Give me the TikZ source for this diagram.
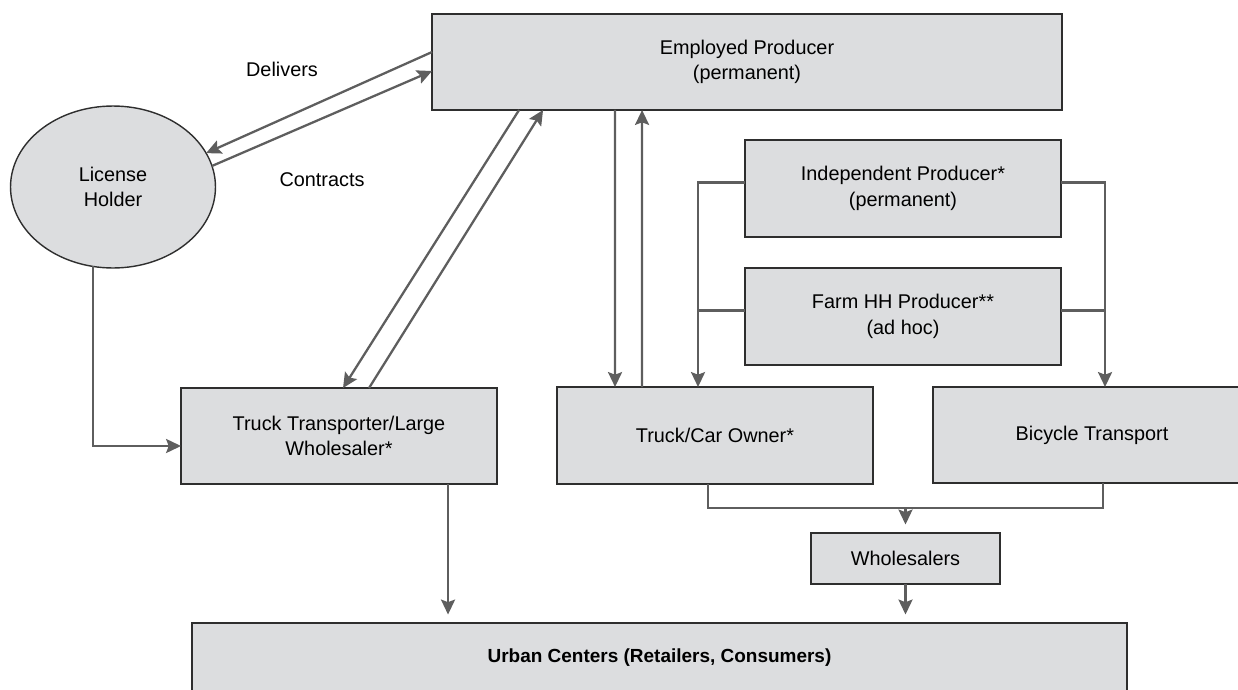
\documentclass[tikz,border=0pt]{standalone}
\usepackage{fontspec}
\setmainfont{Liberation Sans}
\usetikzlibrary{shapes.geometric,arrows.meta,positioning,calc}

\definecolor{boxgray}{HTML}{DCDDDF}
\definecolor{linegray}{HTML}{5E5E5E}
\definecolor{edgegray}{HTML}{2E2E2E}

\tikzset{
    actor/.style={draw=edgegray, line width=0.8pt, fill=boxgray, align=center, inner sep=0pt, outer sep=0pt,
        font=\fontsize{11.3}{14.5}\selectfont},
    flow/.style={draw=linegray, line width=1.3pt},
    arr/.style={flow, -{Stealth[length=8.5pt, width=8pt, inset=1.5pt]}},
    gap/.style={shorten >=0.17cm},
    lbl/.style={font=\fontsize{11.3}{14.5}\selectfont}
}

\begin{document}
\begin{tikzpicture}[x=0.02cm, y=-0.02cm]
        \useasboundingbox (0,0) rectangle (1238,690);

        % producers
        \node[actor, minimum width=12.6cm, minimum height=1.92cm] (emp) at (747,62) {Employed Producer\\(permanent)};
        \node[actor, minimum width=6.32cm, minimum height=1.94cm] (ind) at (903,188.5) {Independent Producer*\\(permanent)};
        \node[actor, minimum width=6.32cm, minimum height=1.94cm] (farm) at (903,316.5) {Farm HH Producer**\\(ad hoc)};
        \node[actor, ellipse, minimum width=4.1cm, minimum height=3.24cm] (lic) at (113,187) {License\\Holder};

        % transport
        \node[actor, minimum width=6.32cm, minimum height=1.92cm] (trk) at (339,436) {Truck Transporter/Large\\Wholesaler*};
        \node[actor, minimum width=6.32cm, minimum height=1.94cm] (car) at (715,435.5) {Truck/Car Owner*};
        \node[actor, minimum width=6.36cm, minimum height=1.92cm] (bike) at (1092,435) {Bicycle Transport};
        \node[actor, minimum width=3.78cm, minimum height=1.02cm] (whl) at (905.5,558.5) {Wholesalers};
        \node[actor, minimum width=18.7cm, minimum height=1.38cm, font=\fontsize{10.8}{13}\selectfont\bfseries] (urb) at (659.5,657.5) {Urban Centers (Retailers, Consumers)};

        % labels
        \node[lbl] (deliv) at (282,69) {Delivers};
        \node[lbl] (contr) at (322,180) {Contracts};

        % license holder
        \draw[arr] ($(emp.west)+(0,-10)$) -- (lic.20);
        \draw[arr] (lic.12) -- ($(emp.west)+(0,9)$);
        \draw[arr] (lic.256) |- ($(trk.west)+(0,10)$);

        % employed producer
        \draw[arr] ($(emp.south west)+(87,0)$) -- ($(trk.north west)+(162,0)$);
        \draw[arr] ($(trk.north west)+(188,0)$) -- ($(emp.south west)+(111,0)$);
        \draw[arr] ($(emp.south west)+(183,0)$) -- ($(car.north west)+(58,0)$);
        \draw[arr] ($(car.north west)+(85,0)$) -- ($(emp.south west)+(210,0)$);

        % independent and farm
        \coordinate (carin) at ($(car.north west)+(141,0)$);
        \coordinate (bikein) at ($(bike.north west)+(172,0)$);
        \draw[arr] ($(ind.west)+(0,-6)$) -| (carin);
        \draw[flow] ($(farm.west)+(0,-6)$) -- ($(farm.west -| carin)+(0,-6)$);
        \draw[arr] ($(ind.east)+(0,-6)$) -| (bikein);
        \draw[flow] ($(farm.east)+(0,-6)$) -- ($(farm.east -| bikein)+(0,-6)$);

        % to the market
        \coordinate (trkout) at ($(trk.south west)+(267,0)$);
        \coordinate (mrg) at (905.5,508);
        \draw[flow] ($(car.south west)+(151,0)$) -- ++(0,24) -| ($(bike.south west)+(170,0)$);
        \draw[arr, gap] (mrg) -- (whl.north);
        \draw[arr, gap] (trkout) -- (trkout |- urb.north);
        \draw[arr, gap] (whl.south) -- (whl.south |- urb.north);
    \end{tikzpicture}
\end{document}
